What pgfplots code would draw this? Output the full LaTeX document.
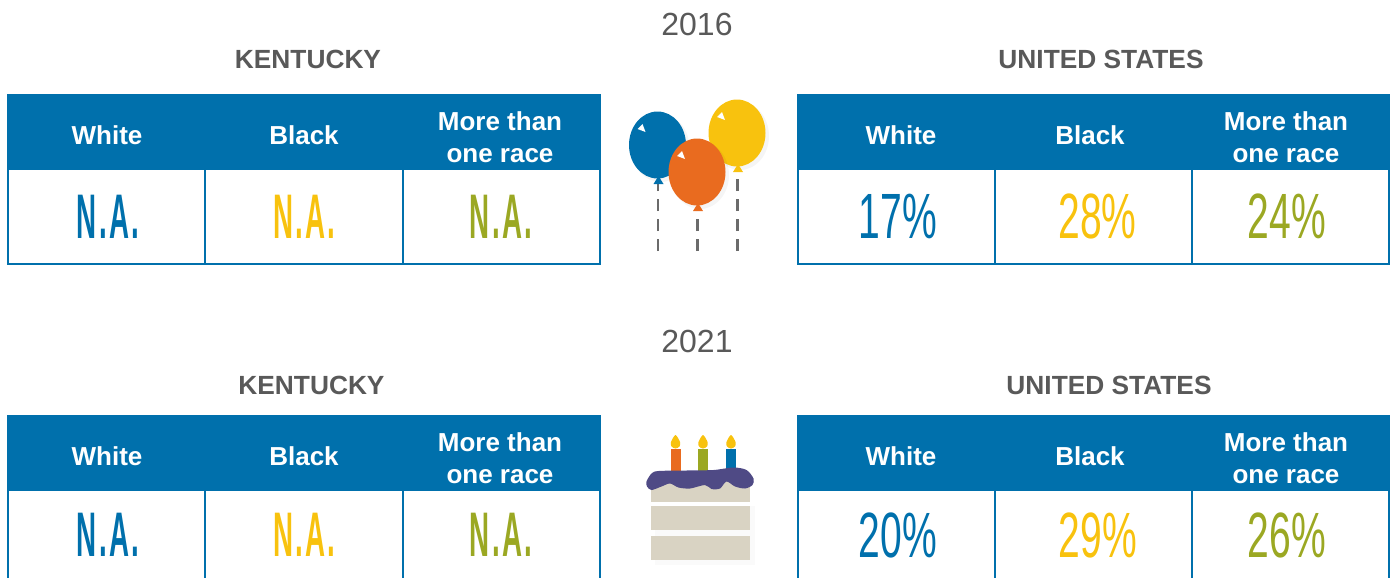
\documentclass[border=0pt]{standalone}
\usepackage{fontspec}
\setmainfont{Liberation Sans}
\usepackage{graphicx}
\usepackage{pgfplots}
\pgfplotsset{compat=1.18}
\definecolor{tblue}{HTML}{0070AC}
\definecolor{tyellow}{HTML}{F8C20E}
\definecolor{tgreen}{HTML}{9BA823}
\definecolor{torange}{HTML}{E96B1F}
\definecolor{tpurple}{HTML}{4F4A85}
\definecolor{tcake}{HTML}{D9D3C3}
\definecolor{ttext}{HTML}{595959}
\definecolor{tdash}{HTML}{6B6B6B}

% header band and cell frame of one table: x0, x1, x2, x3, top, header bottom, bottom
\newcommand{\tablebox}[7]{
  \addplot[draw=none, fill=tblue] coordinates {(#1,#5) (#4,#5) (#4,#6) (#1,#6)} --cycle;
  \addplot[tblue, line width=1.7pt] coordinates {(#1+0.8,#6) (#1+0.8,#7) (#4-0.8,#7) (#4-0.8,#6)};
  \addplot[tblue, line width=1.7pt] coordinates {(#2,#6) (#2,#7)};
  \addplot[tblue, line width=1.7pt] coordinates {(#3,#6) (#3,#7)};
}
% header labels: x white, x black, x more, baseline of the two-line label
\newcommand{\headers}[4]{
  \node[anchor=base, text=white, font=\fontsize{26}{30}\selectfont\bfseries] at (axis cs:#1,#4+14) {White};
  \node[anchor=base, text=white, font=\fontsize{26}{30}\selectfont\bfseries] at (axis cs:#2,#4+14) {Black};
  \node[anchor=base, text=white, font=\fontsize{26}{30}\selectfont\bfseries] at (axis cs:#3,#4) {More than};
  \node[anchor=base, text=white, font=\fontsize{26}{30}\selectfont\bfseries] at (axis cs:#3,#4+32) {one race};
}
\newcommand{\val}[5]{% x, baseline, colour, x stretch, text
  \node[anchor=base, text=#3, inner sep=0pt, font=\fontsize{64}{70}\selectfont] at (axis cs:#1,#2) {\scalebox{#4}[1]{#5}};
}
\newcommand{\na}[3]{% x, baseline, colour
  \node[anchor=base, text=#3, inner sep=0pt, font=\fontsize{63}{70}\selectfont\bfseries] at (axis cs:#1,#2) {\scalebox{0.44}[1]{\addfontfeature{LetterSpace=8}N.A.}};
}
\newcommand{\gtitle}[3]{% x, baseline, text
  \node[anchor=base, text=ttext, font=\fontsize{26.3}{30}\selectfont\bfseries] at (axis cs:#1,#2) {#3};
}
\newcommand{\balloon}[4]{% cx, cy, colour, string top
  \fill[black, opacity=0.04] (axis cs:#1+3,#2+3) ellipse [x radius=29, y radius=34];
  \addplot[tdash, line width=2.4pt, dash pattern=on 12.5pt off 7.5pt] coordinates {(#1+0.5,251) (#1+0.5,#4)};
  \fill[#3] (axis cs:#1,#2) ellipse [x radius=28.5, y radius=33.5];
  \addplot[draw=none, fill=#3] coordinates {(#1+1,#2+31) (#1+6,#2+39) (#1-4,#2+39)} --cycle;
  \addplot[draw=none, fill=white] coordinates {(#1-15,#2-21) (#1-12,#2-13) (#1-20,#2-16)} --cycle;
}

\begin{document}
\begin{tikzpicture}
\begin{axis}[
    scale only axis,
    width=1395pt,
    height=578pt,
    xmin=0, xmax=1395,
    ymin=0, ymax=578,
    y dir=reverse,
    hide axis,
]
% 2016
\tablebox{7}{205}{403}{601}{94}{170}{264}
\tablebox{797}{995}{1192}{1390}{94}{170}{264}
% 2021, cut off by the lower edge of the picture
\tablebox{7}{205}{403}{601}{415}{491}{590}
\tablebox{797}{995}{1192}{1390}{415}{491}{590}

\headers{107}{304}{500}{130}
\headers{901}{1090}{1286}{130}
\headers{107}{304}{500}{451}
\headers{901}{1090}{1286}{451}

\node[anchor=base, text=ttext, font=\fontsize{32}{36}\selectfont] at (axis cs:697,35.5) {2016};
\node[anchor=base, text=ttext, font=\fontsize{32}{36}\selectfont] at (axis cs:697,352.5) {2021};
\gtitle{308}{69}{KENTUCKY}
\gtitle{1101}{69}{UNITED STATES}
\gtitle{311.5}{394}{KENTUCKY}
\gtitle{1109}{394}{UNITED STATES}

\na{108}{238}{tblue}
\na{304.5}{238}{tyellow}
\na{501}{238}{tgreen}
\val{898}{238}{tblue}{0.61}{17\%}
\val{1097.5}{238}{tyellow}{0.61}{28\%}
\val{1287}{238}{tgreen}{0.61}{24\%}
\na{108}{556}{tblue}
\na{304.5}{556}{tyellow}
\na{501}{556}{tgreen}
\val{898}{557}{tblue}{0.61}{20\%}
\val{1098}{557}{tyellow}{0.61}{29\%}
\val{1287}{557}{tgreen}{0.61}{26\%}

% balloons
\balloon{657.5}{145}{tblue}{184}
\balloon{737}{133}{tyellow}{172}
\balloon{697}{172}{torange}{210}

% cake
\addplot[draw=none, fill=black!2] coordinates {(655,506) (755,506) (755,565) (655,565)} --cycle;
\addplot[draw=none, fill=tcake] coordinates {(651,480) (750,480) (750,501.5) (651,501.5)} --cycle;
\addplot[draw=none, fill=tcake] coordinates {(651,505.5) (750,505.5) (750,530) (651,530)} --cycle;
\addplot[draw=none, fill=tcake] coordinates {(651,535.5) (750,535.5) (750,560) (651,560)} --cycle;
\addplot[draw=none, fill=torange] coordinates {(670.5,448.5) (680.5,448.5) (680.5,472) (670.5,472)} --cycle;
\addplot[draw=none, fill=tgreen] coordinates {(698,448.5) (708,448.5) (708,472) (698,472)} --cycle;
\addplot[draw=none, fill=tblue] coordinates {(726,448.5) (736,448.5) (736,472) (726,472)} --cycle;
\fill[tyellow] plot[smooth cycle] coordinates {(675.5,435) (680,442) (679.5,446.5) (675.5,448.5) (671.5,446.5) (671,442)};
\fill[tyellow] plot[smooth cycle] coordinates {(703,435) (707.5,442) (707,446.5) (703,448.5) (699,446.5) (698.5,442)};
\fill[tyellow] plot[smooth cycle] coordinates {(731,435) (735.5,442) (735,446.5) (731,448.5) (727,446.5) (726.5,442)};
\fill[tpurple] plot[smooth cycle, tension=0.5] coordinates {
  (646.5,481.5) (651.5,473.5) (658.5,471) (686.5,470.5) (713.5,470) (733.5,467.5)
  (746.5,470) (753.5,478.5) (752.5,485) (745,488.5) (735,486.5) (726.5,481.5)
  (720,488.5) (711.5,489) (705,485) (690,488.5) (678.5,487.5) (670,483.5)
  (661.5,486.5) (651.5,490) (647,486.5)};
\end{axis}
\pgfresetboundingbox
\path[use as bounding box] (0,0) rectangle (1395pt,578pt);
\end{tikzpicture}
\end{document}
